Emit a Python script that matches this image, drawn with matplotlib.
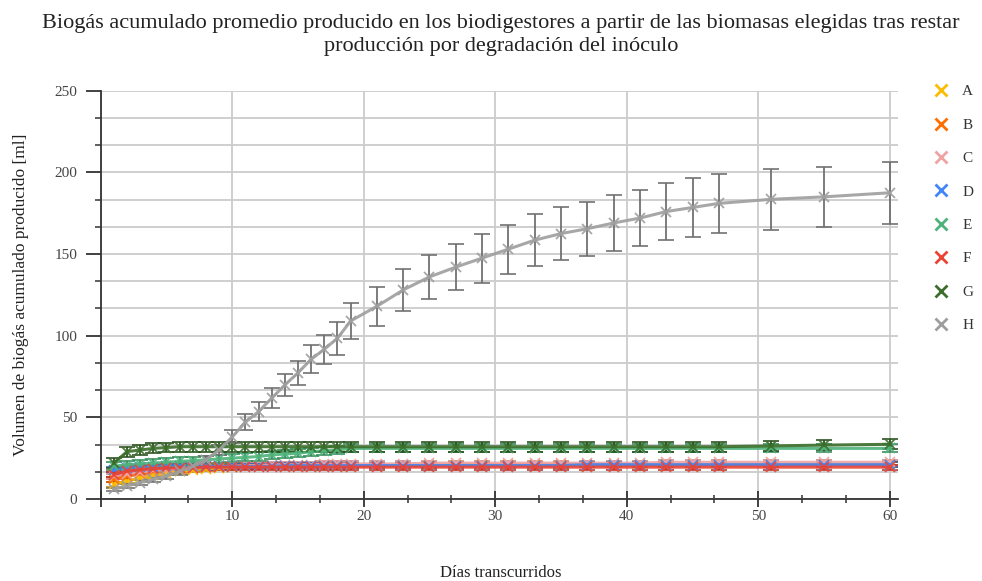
import matplotlib
matplotlib.use("Agg")
import matplotlib.pyplot as plt
from matplotlib.lines import Line2D
from matplotlib.ticker import MultipleLocator

plt.rcParams['font.family'] = ['Liberation Serif', 'DejaVu Serif']

# Measurement days
days = list(range(1, 20)) + list(range(21, 48, 2)) + [51, 55, 60]

series_names = ["A", "B", "C", "D", "E", "F", "G", "H"]

A = [9, 11, 13, 14.5, 16, 17, 18, 18.5, 19, 19.5, 20, 20, 20, 20.5, 20.5, 20.5, 20.5, 20.5, 20.5,
     20.5, 20.5, 21, 21, 21, 21, 21, 21, 21, 21, 21, 21, 21, 21, 21, 21, 21]
B = [12, 14, 16, 17, 18, 18.5, 19, 19.5, 20, 20, 20, 20, 20.5, 20.5, 20.5, 20.5, 20.5, 20.5, 20.5,
     20.5, 20.5, 20.5, 20.5, 21, 21, 21, 21, 21, 21, 21, 21, 21, 21, 21, 21, 21]
C = [14, 15.5, 16.5, 17.5, 18, 18.5, 19, 19.5, 20, 20, 20.5, 20.5, 21, 21, 21, 21, 21.5, 21.5, 21.5,
     21.5, 21.5, 22, 22, 22, 22, 22, 22, 22, 22, 22, 22.5, 22.5, 22.5, 22.5, 22.5, 22.5]
D = [18, 19, 19.5, 19.5, 20, 20, 20, 20, 20, 20, 20, 20, 20, 20.5, 20.5, 20.5, 20.5, 20.5, 20.5,
     20.5, 20.5, 20.5, 20.5, 20.5, 20.5, 20.5, 20.5, 21, 21, 21, 21, 21, 21, 21, 21, 21]
E = [20, 21, 21.5, 22, 22.5, 23, 23.5, 24, 24.5, 25, 25.5, 26, 27, 27.5, 28, 29, 29.5, 30, 31,
     31, 31, 31, 31, 31, 31, 31, 31, 31, 31, 31, 31, 31, 31, 31, 31, 31]
F = [15, 17, 18, 18.5, 19, 19, 19, 19.5, 19.5, 19.5, 19.5, 19.5, 19.5, 19.5, 19.5, 19.5, 19.5, 19.5, 19.5,
     19.5, 19.5, 19.5, 19.5, 19.5, 19.5, 19.5, 19.5, 19.5, 19.5, 19.5, 19.5, 19.5, 19.5, 19.5, 19.5, 19.5]
G = [22, 29, 30, 31, 31.5, 32, 32, 32, 32, 32, 32, 32, 32, 32, 32, 32, 32, 32, 32,
     32, 32, 32, 32, 32, 32, 32, 32, 32, 32, 32, 32, 32, 32, 32.5, 33, 33.5]
H = [6, 8, 10, 12, 14, 17, 20, 24, 30, 38, 47, 53.5, 61.7, 69.8, 77.3, 85.5, 91.7, 98.4, 109,
     118, 128, 136, 142, 147.5, 153, 158.5, 162.5, 165.5, 169, 172, 176, 178.5, 181, 183.5, 185, 187.5]

# Standard deviations
err_low = [1.5] * len(days)
err_E = [2.5] * len(days)
err_G = [3.0] * len(days)
err_H = [1, 1, 1.5, 1.5, 2, 2, 2.5, 2.5, 3, 4, 5, 5.6, 6, 7, 7.5, 8.5, 9, 10, 11,
         12, 13, 13.5, 14, 15, 15, 15.7, 16, 16.5, 17, 17, 17.5, 18, 18, 18.5, 18.5, 19]

values = [A, B, C, D, E, F, G, H]
errors = [err_low, err_low, err_low, err_low, err_E, err_low, err_G, err_H]
colors = ["#FBBC04", "#FF6D01", "#EFA3A3", "#4285F4", "#4DB37A", "#EA4335", "#3B6E2A", "#9E9E9E"]
ecolors = ["#C99400", "#CC5500", "#D08585", "#2F65C0", "#3A8A5C", "#B8352A", "#2A5020", "#6E6E6E"]

fig = plt.figure(figsize=(9.82, 5.81), dpi=100)
ax = fig.add_axes([100.7 / 982, 82 / 581, 797 / 982, 408.3 / 581])

for name, vals, err, c, ec in zip(series_names, values, errors, colors, ecolors):
    ax.errorbar(days, vals, yerr=err, color=c, ecolor=ec, marker='x', ms=7, mew=1.3,
                lw=2.2, capsize=6, elinewidth=1.4, capthick=1.4, alpha=0.9, zorder=3)

ax.set_xlim(0, 60.6)
ax.set_ylim(0, 250)
ax.xaxis.set_major_locator(MultipleLocator(10))
ax.xaxis.set_minor_locator(MultipleLocator(10 / 3))
ax.yaxis.set_major_locator(MultipleLocator(50))
ax.yaxis.set_minor_locator(MultipleLocator(50 / 3))

ax.grid(True, which='major', axis='x', color='#cccccc', lw=1.3, zorder=0)
ax.grid(True, which='both', axis='y', color='#cccccc', lw=1.3, zorder=0)
ax.set_axisbelow(True)

for s in ['top', 'right']:
    ax.spines[s].set_visible(False)
for s in ['left', 'bottom']:
    ax.spines[s].set_color('#333333')
    ax.spines[s].set_linewidth(1.3)

ax.set_xticks(range(0, 61, 10))
ax.set_xticklabels(['', '10', '20', '30', '40', '50', '60'])
ax.tick_params(axis='x', which='major', direction='inout', length=12, width=1.3, color='#333333',
               labelsize=11, labelcolor='#444444', pad=2)
ax.tick_params(axis='x', which='minor', direction='inout', length=6, width=1.1, color='#333333')
ax.tick_params(axis='y', which='major', direction='out', length=11, width=1.3, color='#333333',
               labelsize=11, labelcolor='#444444', pad=6)
ax.tick_params(axis='y', which='minor', direction='out', length=4, width=1.1, color='#333333')

fig.text(0.51, 1 - 573 / 581, "Días transcurridos", ha='center', va='center',
         fontsize=12, color='#222222')
ax.set_ylabel("Volumen de biogás acumulado producido [ml]", fontsize=12.5, color='#222222', labelpad=18)

fig.text(0.51, 1 - 35 / 581,
         "Biogás acumulado promedio producido en los biodigestores a partir de las biomasas elegidas tras restar\n"
         "producción por degradación del inóculo",
         ha='center', va='center', fontsize=16, color='#222222', linespacing=1.35)

handles = [Line2D([], [], marker='x', color=c, linestyle='none', ms=9, mew=2.0) for c in colors]
fig.legend(handles, series_names, loc='upper left', bbox_to_anchor=(918 / 982, 1 - 71 / 581),
           frameon=False, fontsize=11, labelspacing=1.29, handletextpad=0.8, handlelength=1.2,
           labelcolor='#333333')

fig.savefig("out.png", dpi=100)
